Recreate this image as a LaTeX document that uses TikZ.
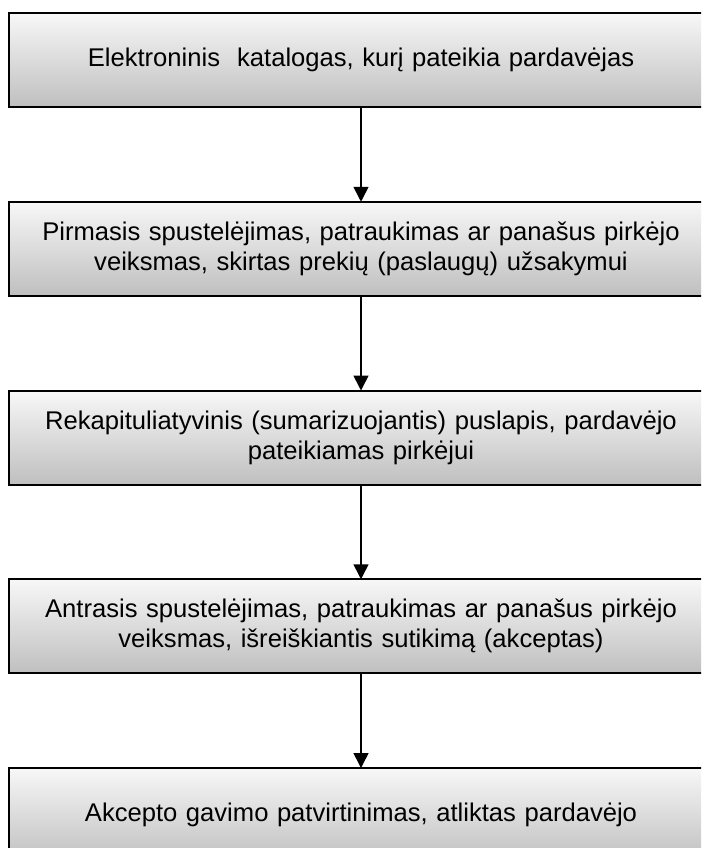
\documentclass[tikz,border=0pt]{standalone}
\usepackage{fontspec}
\setmainfont{Liberation Sans}
\usetikzlibrary{matrix,arrows.meta}

\tikzset{
  flowbox/.style={draw, line width=2pt, top color=white!97!black, bottom color=black!25,
    text width=690pt, align=center, minimum width=704pt, minimum height=94pt,
    inner sep=0pt, font=\fontsize{25.6}{30}\selectfont}
}

\begin{document}
\begin{tikzpicture}[x=1pt,y=-1pt]
  \useasboundingbox (0,0) rectangle (701,848);
  \clip (0,0) rectangle (701,848);
  \matrix (m) [matrix of nodes, row sep=92.75pt, nodes={flowbox}, inner sep=0pt, outer sep=0pt, anchor=north west] at (8,12)
  {
    {Elektroninis\ \ katalogas, kurį pateikia pardavėjas} \\
    {Pirmasis spustelėjimas, patraukimas ar panašus pirkėjo\\ veiksmas, skirtas prekių (paslaugų) užsakymui} \\
    {Rekapituliatyvinis (sumarizuojantis) puslapis, pardavėjo\\ pateikiamas pirkėjui} \\
    {Antrasis spustelėjimas, patraukimas ar panašus pirkėjo\\ veiksmas, išreiškiantis sutikimą (akceptas)} \\
    {Akcepto gavimo patvirtinimas, atliktas pardavėjo} \\ };
  \path[-{Triangle[width=15pt,length=15pt]}, line width=1.6pt]
  (m-1-1) edge (m-2-1)
  (m-2-1) edge (m-3-1)
  (m-3-1) edge (m-4-1)
  (m-4-1) edge (m-5-1);
\end{tikzpicture}
\end{document}
